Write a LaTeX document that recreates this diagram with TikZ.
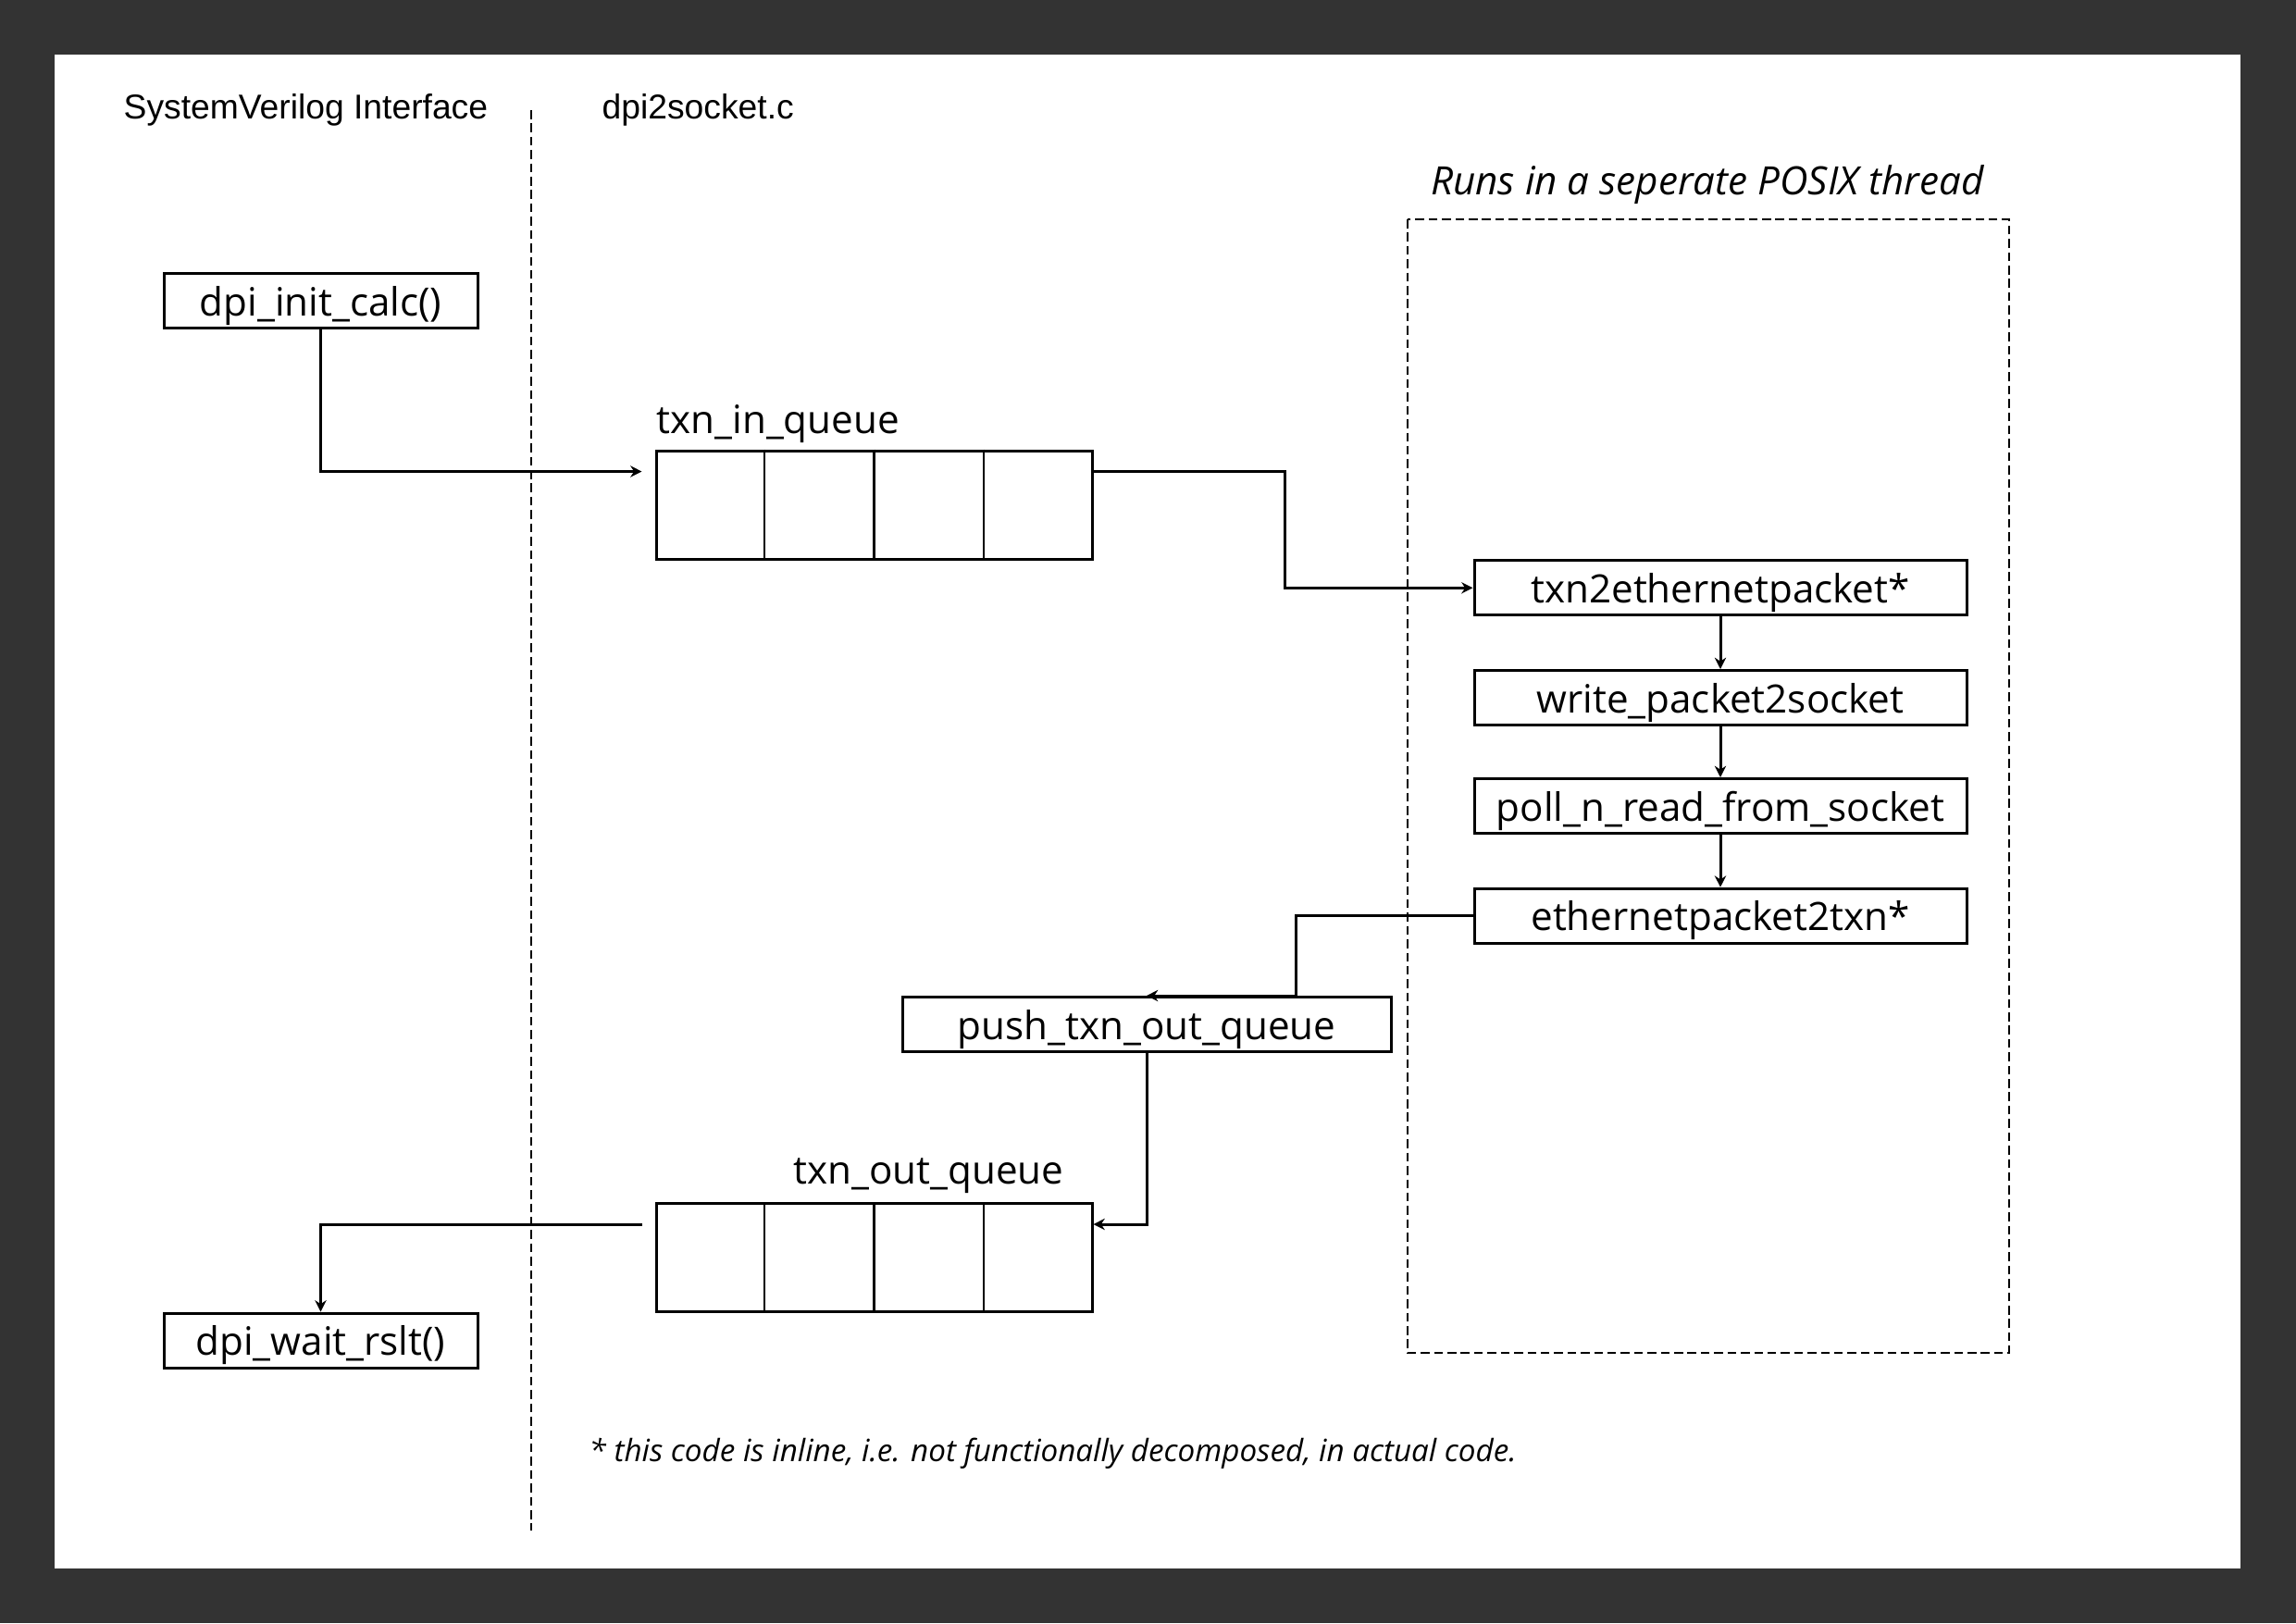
\documentclass[tikz,border=0pt]{standalone}
\usepackage{fontspec}
\setmainfont{Open Sans}
\newfontfamily\headfont{Liberation Sans}
\usetikzlibrary{arrows.meta,calc}
\definecolor{framegray}{HTML}{333333}

\begin{document}
\begin{tikzpicture}
            \fill[framegray] (0,0) rectangle (24.81,-17.54);
            \fill[white] (0.585,-0.585) rectangle (24.21,-16.95);

            \tikzset{
                fnbox/.style={draw, line width=0.3mm, minimum width=#1, minimum height=0.59cm, inner sep=0pt, text height=0.44cm, text depth=0.12cm, font=\fontsize{12}{14}\selectfont},
                flow/.style={line width=0.3mm, -{Stealth[length=3.5pt,width=3.5pt]}},
                lbl/.style={inner sep=0pt, yshift=-0.05cm, font=\fontsize{12}{14}\selectfont},
                hdr/.style={anchor=west, inner sep=0pt, yshift=-0.035cm, font=\headfont\fontsize{10.6}{12}\selectfont},
                sep/.style={line width=0.25mm, dash pattern=on 2.7pt off 1.4pt}
            }

            % Define the macro.
            % 1st argument: Name of the queue node.
            % 2nd argument: Centre of the queue.
            \newcommand{\txnQueue}[2]{
                \node[draw, line width=0.3mm, minimum width=4.71cm, minimum height=1.17cm, inner sep=0pt] (#1) at (#2) {};
                \foreach \i in {1,2,3}
                    \draw[line width=0.25mm] ($(#1.north west)!\i/4!(#1.north east)$) -- ($(#1.south west)!\i/4!(#1.south east)$);
            }

            % HEADERS
            \node[hdr] (svhdr) at (1.33,-1.155) {SystemVerilog Interface};
            \node[hdr] (chdr) at (6.50,-1.155) {dpi2socket.c};
            \draw[sep] (5.74,-1.19) -- (5.74,-16.54);

            % THREAD
            \node[lbl] (threadlbl) at (18.45,-1.95) {\itshape Runs in a seperate POSIX thread};
            \draw[sep] (15.21,-2.37) rectangle (21.71,-14.62);

            % SV SIDE
            \node[fnbox=3.39cm] (init) at (3.465,-3.25) {dpi\_init\_calc()};
            \node[fnbox=3.39cm] (wait) at (3.465,-14.485) {dpi\_wait\_rslt()};

            % QUEUES
            \txnQueue{qin}{9.445,-5.455}
            \txnQueue{qout}{9.445,-13.59}
            \node[lbl, anchor=west] (qinlbl) at (7.09,-4.53) {txn\_in\_queue};
            \node[lbl] (qoutlbl) at (10.035,-12.66) {txn\_out\_queue};

            % THREAD STEPS
            \node[fnbox=5.32cm] (t2e) at (18.59,-6.353) {txn2ethernetpacket*};
            \node[fnbox=5.32cm] (wps) at (18.59,-7.54) {write\_packet2socket};
            \node[fnbox=5.32cm] (pnr) at (18.59,-8.71) {poll\_n\_read\_from\_socket};
            \node[fnbox=5.32cm] (e2t) at (18.59,-9.897) {ethernetpacket2txn*};
            \node[fnbox=5.28cm] (push) at (12.39,-11.07) {push\_txn\_out\_queue};

            % PORTS
            \coordinate (qinport) at ($(qin.north west)+(-0.14,-0.24)$);
            \coordinate (qinexit) at ($(qin.north east)+(0,-0.24)$);
            \coordinate (elbowA) at ($(qinexit)+(2.07,0)$);
            \coordinate (elbowB) at ($(push.north)+(1.61,0)$);
            \coordinate (qoutport) at ($(qout.north east)+(0,-0.24)$);
            \coordinate (qoutexit) at ($(qout.north west)+(-0.14,-0.24)$);

            % CONNECTORS
            \draw[flow] (init.south) |- (qinport);
            \draw[flow] (qinexit) -- (elbowA) |- (t2e.west);
            \draw[flow] (t2e) -- (wps);
            \draw[flow] (wps) -- (pnr);
            \draw[flow] (pnr) -- (e2t);
            \draw[flow] (e2t.west) -| (elbowB) -- (push.north);
            \draw[flow] (push.south) |- (qoutport);
            \draw[flow] (qoutexit) -| (wait.north);

            % FOOTNOTE
            \node[anchor=west, inner sep=0pt, yshift=-0.05cm, font=\fontsize{9.45}{11}\selectfont\itshape] (fnote) at (6.36,-15.66) {* this code is inline, i.e. not functionally decomposed, in actual code.};
\end{tikzpicture}
\end{document}
